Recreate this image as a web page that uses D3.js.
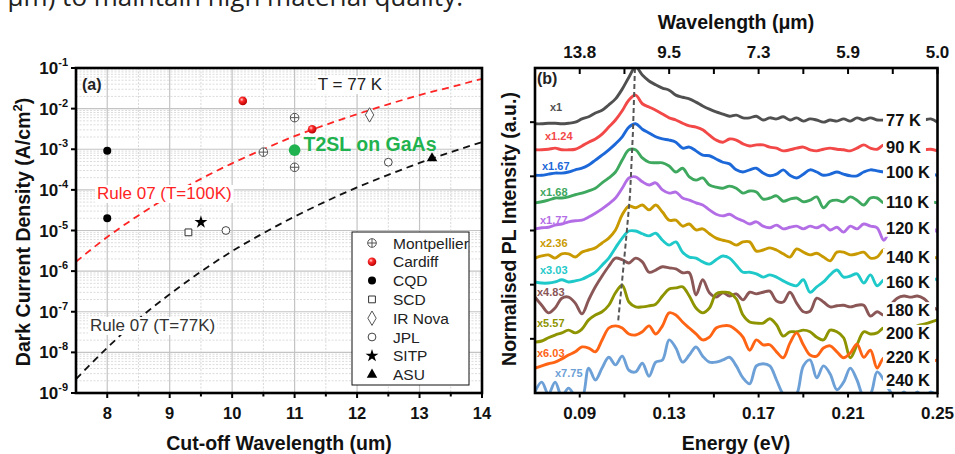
<!DOCTYPE html>
<html>
<head>
<meta charset="utf-8">
<script src="https://cdn.jsdelivr.net/npm/d3@7"></script>
<style>
  body { margin: 0; background: #fff; }
  svg { display: block; }
  text { font-family: "Liberation Sans", Arial, Helvetica, sans-serif; }
</style>
</head>
<body>
<svg id="fig" width="955" height="454"></svg>
<script>
// ================= data: panel (a) dark current vs cut-off wavelength =================
const wavelengthGrid = [7.5, 8, 8.5, 9, 9.5, 10, 10.5, 11, 11.5, 12, 12.5, 13, 13.5, 14];
const rule07At77K  = [2.2e-9, 1.3e-8, 6.6e-8, 2.7e-7, 9.7e-7, 3.1e-6, 8.6e-6, 2.2e-5, 5.2e-5, 1.15e-4, 2.35e-4, 4.6e-4, 8.5e-4, 1.5e-3];
const rule07At100K = [1.7e-6, 6.9e-6, 2.35e-5, 7.1e-5, 1.87e-4, 4.5e-4, 1.0e-3, 2.1e-3, 4.0e-3, 7.3e-3, 1.28e-2, 2.15e-2, 3.4e-2, 5.4e-2];

const groupNames = ["Montpellier", "Cardiff", "CQD", "SCD", "IR Nova", "JPL", "SITP", "ASU"];
const montpellierPts = [[10.5, 8.5e-4], [11, 6e-3], [11, 3.6e-4]];
const cardiffPts     = [[10.17, 1.55e-2], [11.28, 3.1e-3]];
const cqdPts         = [[8, 9.2e-4], [8, 2e-5]];
const scdPts         = [[9.3, 9e-6]];
const irNovaPts      = [[12.2, 7e-3]];
const jplPts         = [[9.9, 1e-5], [12.5, 4.8e-4]];
const sitpPts        = [[9.5, 1.6e-5]];
const asuPts         = [[13.2, 6e-4]];
const t2slPts        = [[11, 9.5e-4]];

const xTicksA = [8, 9, 10, 11, 12, 13, 14];
const yExpA = [-9, -8, -7, -6, -5, -4, -3, -2, -1];

// ================= data: panel (b) PL spectra =================
const energy = [0.070,0.073,0.076,0.079,0.082,0.085,0.088,0.091,0.094,0.097,0.100,0.103,0.106,0.109,0.112,0.115,0.118,0.121,0.124,0.127,0.130,0.133,0.136,0.139,0.142,0.145,0.148,0.151,0.154,0.157,0.160,0.163,0.166,0.169,0.172,0.175,0.178,0.181,0.184,0.187,0.190,0.193,0.196,0.199,0.202,0.205,0.208,0.211,0.214,0.217,0.220,0.223,0.226,0.229,0.232,0.235,0.238,0.241,0.244,0.247,0.250];

const temps = ["77 K", "90 K", "100 K", "110 K", "120 K", "140 K", "160 K", "180 K", "200 K", "220 K", "240 K"];
const multipliers = ["x1", "x1.24", "x1.67", "x1.68", "x1.77", "x2.36", "x3.03", "x4.83", "x5.57", "x6.03", "x7.75"];

const pl77 = [4.97,4.97,4.98,4.98,4.97,4.98,5.00,5.06,5.10,5.17,5.22,5.32,5.43,5.61,5.83,6.02,5.87,5.76,5.69,5.63,5.59,5.50,5.46,5.43,5.37,5.30,5.24,5.19,5.15,5.11,5.13,5.08,5.08,5.11,5.04,5.08,5.06,5.10,5.04,5.08,5.02,5.06,5.04,5.00,5.04,5.02,5.06,5.02,5.08,5.04,5.08,5.04,5.04,5.04,5.02,5.06,5.04,5.02,5.04,5.06,5.00];
const pl90 = [4.49,4.49,4.50,4.52,4.49,4.49,4.50,4.56,4.63,4.69,4.78,4.91,5.04,5.21,5.41,5.50,5.34,5.28,5.22,5.15,5.08,5.04,4.98,4.93,4.91,4.86,4.76,4.67,4.63,4.69,4.67,4.60,4.56,4.58,4.58,4.54,4.52,4.47,4.49,4.52,4.54,4.49,4.47,4.50,4.52,4.50,4.49,4.47,4.52,4.58,4.52,4.50,4.58,4.52,4.49,4.50,4.52,4.49,4.49,4.50,4.47];
const pl100 = [4.02,4.02,4.04,4.06,4.06,4.08,4.12,4.15,4.21,4.30,4.39,4.49,4.60,4.73,4.91,4.97,4.87,4.80,4.73,4.69,4.67,4.63,4.52,4.54,4.47,4.39,4.38,4.32,4.26,4.23,4.12,4.08,4.12,4.15,4.06,4.01,4.04,4.12,4.02,3.97,4.04,4.12,4.08,4.02,4.04,4.08,4.04,4.01,4.01,4.08,4.12,4.10,4.08,4.06,4.10,4.04,4.08,4.06,4.08,4.06,4.01];
const pl110 = [3.51,3.53,3.56,3.60,3.60,3.62,3.66,3.69,3.73,3.78,3.88,3.97,4.08,4.30,4.49,4.49,4.34,4.26,4.25,4.25,4.19,4.08,4.15,3.99,3.93,3.97,3.84,3.80,3.78,3.82,3.78,3.69,3.73,3.71,3.58,3.60,3.64,3.54,3.58,3.60,3.53,3.56,3.62,3.42,3.54,3.56,3.53,3.62,3.56,3.47,3.60,3.60,3.51,3.53,3.56,3.49,3.54,3.53,3.56,3.53,3.51];
const pl120 = [3.03,3.05,3.06,3.10,3.12,3.16,3.18,3.19,3.25,3.32,3.40,3.49,3.60,3.78,3.97,3.99,3.90,3.84,3.88,3.75,3.69,3.71,3.60,3.56,3.51,3.47,3.38,3.30,3.27,3.30,3.23,3.18,3.12,3.16,3.08,3.05,3.10,3.03,3.06,3.08,3.03,3.08,3.05,3.10,3.01,3.06,2.97,3.08,3.03,3.12,3.08,3.05,2.82,3.01,3.05,3.03,3.05,3.06,3.03,3.05,2.97];
const pl140 = [2.49,2.53,2.55,2.49,2.57,2.57,2.51,2.60,2.64,2.68,2.77,2.86,3.01,3.29,3.45,3.42,3.47,3.38,3.47,3.34,3.19,3.19,3.08,3.12,3.01,3.03,2.94,2.86,2.82,2.79,2.73,2.79,2.79,2.62,2.64,2.68,2.64,2.57,2.51,2.66,2.60,2.55,2.58,2.51,2.44,2.60,2.60,2.55,2.57,2.60,2.49,2.51,2.64,2.55,2.51,2.57,2.53,2.55,2.49,2.51,2.49];
const pl160 = [2.05,2.03,2.03,2.05,2.09,2.05,2.07,2.10,2.16,2.23,2.36,2.49,2.68,2.86,2.99,2.99,2.94,2.90,2.95,2.82,2.73,2.79,2.60,2.51,2.49,2.42,2.38,2.46,2.53,2.49,2.36,2.23,2.23,2.20,2.14,2.18,2.14,2.07,2.01,1.98,2.09,1.86,1.96,2.05,2.18,2.27,2.14,2.16,2.20,2.03,2.18,1.98,2.09,2.12,2.07,2.10,2.12,2.09,2.10,2.12,2.09];
const pl180 = [1.77,1.62,1.48,1.57,1.75,1.77,1.66,1.46,1.72,1.96,2.16,2.34,2.49,2.46,2.40,2.49,2.42,2.23,2.27,2.33,2.31,2.29,2.22,2.22,1.81,2.09,1.85,1.77,1.85,1.79,1.83,1.72,1.86,1.83,1.86,1.88,1.70,1.68,1.86,1.66,1.50,1.51,1.75,1.68,1.59,1.61,1.62,1.59,1.62,1.62,1.42,1.50,1.44,1.62,1.75,1.79,1.77,1.79,1.74,1.62,1.53];
const pl200 = [0.94,0.96,1.02,1.07,1.11,1.16,1.11,1.18,1.35,1.44,1.50,1.62,1.85,1.99,1.68,1.59,1.59,1.61,1.64,1.79,1.92,1.94,1.96,1.79,1.57,1.48,1.57,1.83,1.86,1.85,1.74,1.44,1.31,1.29,1.29,1.37,1.26,1.05,1.13,1.13,1.16,1.13,1.03,0.98,1.16,1.13,1.02,0.65,0.89,1.13,1.09,1.11,1.20,1.16,1.11,1.20,1.16,1.24,1.27,1.31,1.35];
const pl220 = [0.46,0.50,0.54,0.57,0.63,0.70,0.76,0.85,0.83,0.76,0.98,1.20,1.24,1.20,1.09,1.07,1.13,1.24,1.09,1.24,1.48,1.44,1.31,1.20,1.09,0.98,1.03,1.20,1.24,1.24,1.16,1.03,0.79,0.98,0.89,0.89,0.76,0.65,0.92,1.11,0.89,0.70,0.68,0.83,0.87,0.76,0.65,0.74,0.90,0.66,0.79,0.46,0.65,0.61,0.55,0.57,0.61,0.57,0.54,0.57,0.61];
const pl240 = [0.02,0.20,-0.02,0.20,-0.06,0.09,-0.06,-0.09,0.46,0.24,0.46,0.66,0.52,0.68,0.42,0.39,0.55,0.31,0.57,0.61,0.98,0.83,0.57,0.70,0.85,0.68,0.57,0.57,0.61,0.66,0.50,0.28,0.17,0.50,0.54,0.50,0.24,-0.02,-0.09,-0.02,0.50,0.61,0.28,0.50,0.35,0.06,0.20,0.46,0.24,-0.06,-0.02,0.39,0.24,0.02,-0.09,0.02,-0.09,0.02,-0.09,0.02,-0.06];
const spectra = [pl77, pl90, pl100, pl110, pl120, pl140, pl160, pl180, pl200, pl220, pl240];

// peak-position guide through the stacked spectra
const peakEnergy = [0.1147, 0.1138, 0.1125, 0.1107, 0.1089, 0.1071];
const peakLevel  = [6.0, 4.82, 3.66, 2.82, 2.05, 1.29];

const energyTicks = [0.09, 0.13, 0.17, 0.21, 0.25];
const energyMinor = [0.11, 0.15, 0.19, 0.23];
const wavelengthLabels = ["13.8", "9.5", "7.3", "5.9", "5.0"];

// ================= styling / layout =================
const specColors = ["#505050", "#f24848", "#1c68d8", "#3ea85e", "#b36ee6", "#c99a00", "#1fc9c9", "#8a5656", "#8e9400", "#ff6414", "#6ca0d6"];
const labelLevel = [5.04, 4.54, 4.08, 3.53, 3.05, 2.51, 2.05, 1.53, 1.11, 0.66, 0.24];
const multPos = [[550,107],[545,136],[542,166],[540,192],[540,220],[540,243],[540,270],[537,292],[537,323],[537,353],[555,373]];

const svg = d3.select("#fig");
svg.append("rect").attr("width", 955).attr("height", 454).attr("fill", "#fff");

const defs = svg.append("defs");
const ball = defs.append("radialGradient").attr("id", "ball").attr("cx", "38%").attr("cy", "35%").attr("r", "65%");
ball.append("stop").attr("offset", "0%").attr("stop-color", "#ffd6d6");
ball.append("stop").attr("offset", "35%").attr("stop-color", "#ff2b2b");
ball.append("stop").attr("offset", "100%").attr("stop-color", "#b80000");

// running caption text above the figure (its upper half lies above the page edge)
svg.append("text").attr("x", 463).attr("y", 6).attr("text-anchor", "end")
  .style("font-family", "'Open Sans', sans-serif").style("font-size", "26px").attr("fill", "#222")
  .text("μm) to maintain high material quality.");

// ---------------------------------------------------------------- panel (a)
const A = { l: 76, r: 482, t: 68, b: 393 };
const xA = d3.scaleLinear().domain([7.5, 14]).range([A.l, A.r]);
const yA = d3.scaleLog().domain([1e-9, 1e-1]).range([A.b, A.t]);
const gA = svg.append("g");

defs.append("clipPath").attr("id", "clipA").append("rect")
  .attr("x", A.l).attr("y", A.t).attr("width", A.r - A.l).attr("height", A.b - A.t);

// minor grid
const minorXA = [8.5, 9.5, 10.5, 11.5, 12.5, 13.5];
const minorYA = [];
yExpA.slice(0, -1).forEach(e => { for (let m = 2; m <= 9; m++) minorYA.push(m * Math.pow(10, e)); });
gA.selectAll(".mgx").data(minorXA).join("line")
  .attr("x1", d => xA(d)).attr("x2", d => xA(d)).attr("y1", A.t).attr("y2", A.b)
  .attr("stroke", "#d8d8d8").attr("stroke-dasharray", "2,1.5");
gA.selectAll(".mgy").data(minorYA).join("line")
  .attr("x1", A.l).attr("x2", A.r).attr("y1", d => yA(d)).attr("y2", d => yA(d))
  .attr("stroke", "#dcdcdc").attr("stroke-dasharray", "2,1.5");
// major grid
gA.selectAll(".gx").data(xTicksA.slice(0, -1)).join("line")
  .attr("x1", d => xA(d)).attr("x2", d => xA(d)).attr("y1", A.t).attr("y2", A.b)
  .attr("stroke", "#c4c4c4").attr("stroke-width", 1.2);
gA.selectAll(".gy").data(yExpA.slice(1, -1)).join("line")
  .attr("x1", A.l).attr("x2", A.r).attr("y1", d => yA(Math.pow(10, d))).attr("y2", d => yA(Math.pow(10, d)))
  .attr("stroke", "#c4c4c4").attr("stroke-width", 1.2);

// Rule 07 curves
const ruleLine = d3.line().x((d, i) => xA(wavelengthGrid[i])).y(d => yA(d)).curve(d3.curveMonotoneX);
const gRule = gA.append("g").attr("clip-path", "url(#clipA)");
gRule.append("path").attr("d", ruleLine(rule07At100K)).attr("fill", "none")
  .attr("stroke", "#ff2424").attr("stroke-width", 1.8).attr("stroke-dasharray", "7,5");
gRule.append("path").attr("d", ruleLine(rule07At77K)).attr("fill", "none")
  .attr("stroke", "#111").attr("stroke-width", 1.8).attr("stroke-dasharray", "7,5");

// labels with white backing
function boxedText(g, x, y, txt, opts) {
  const t = g.append("text").attr("x", x).attr("y", y)
    .attr("fill", opts.fill || "#222").style("font-size", opts.size + "px")
    .style("font-weight", opts.weight || "normal").attr("text-anchor", opts.anchor || "start").text(txt);
  const bb = t.node().getBBox();
  g.insert("rect", () => t.node())
    .attr("x", bb.x - (opts.padL ?? 2)).attr("y", bb.y + 1)
    .attr("width", bb.width + (opts.padL ?? 2) + (opts.padR ?? 2)).attr("height", bb.height - 1)
    .attr("fill", "#fff");
  return t;
}
boxedText(gA, 350, 90, "T = 77 K", { size: 17, anchor: "middle" });
boxedText(gA, 97, 199, "Rule 07 (T=100K)", { size: 17, fill: "#ff2424" });
boxedText(gA, 90, 331, "Rule 07 (T=77K)", { size: 17, fill: "#333" });

// markers
const sym = (type, size) => d3.symbol().type(type).size(size)();
function marker(g, kind, x, y) {
  const s = g.append("g").attr("transform", `translate(${x},${y})`);
  switch (kind) {
    case "Montpellier":
      s.append("circle").attr("r", 4.3).attr("fill", "#fff").attr("stroke", "#555").attr("stroke-width", 1);
      s.append("path").attr("d", "M-4.3,0H4.3M0,-4.3V4.3").attr("stroke", "#555").attr("stroke-width", 1);
      break;
    case "Cardiff":
      s.append("circle").attr("r", 4.3).attr("fill", "url(#ball)");
      break;
    case "CQD":
      s.append("circle").attr("r", 4).attr("fill", "#000");
      break;
    case "SCD":
      s.append("path").attr("d", sym(d3.symbolSquare, 46)).attr("fill", "#fff").attr("stroke", "#333").attr("stroke-width", 1);
      break;
    case "IR Nova":
      s.append("path").attr("d", sym(d3.symbolDiamond, 60)).attr("fill", "#fff").attr("stroke", "#555").attr("stroke-width", 1);
      break;
    case "JPL":
      s.append("circle").attr("r", 3.9).attr("fill", "#fff").attr("stroke", "#444").attr("stroke-width", 1);
      break;
    case "SITP":
      s.append("path").attr("d", sym(d3.symbolStar, 52)).attr("fill", "#000");
      break;
    case "ASU":
      s.append("path").attr("d", sym(d3.symbolTriangle, 48)).attr("fill", "#000");
      break;
  }
}
const groupPts = [montpellierPts, cardiffPts, cqdPts, scdPts, irNovaPts, jplPts, sitpPts, asuPts];
groupNames.forEach((name, gi) => {
  groupPts[gi].forEach(p => marker(gA, name, xA(p[0]), yA(p[1])));
});
t2slPts.forEach(p => gA.append("circle").attr("cx", xA(p[0])).attr("cy", yA(p[1])).attr("r", 5.8).attr("fill", "#1fb24e"));
gA.append("text").attr("x", xA(t2slPts[0][0]) + 9).attr("y", yA(t2slPts[0][1]) + 1)
  .attr("fill", "#1fb24e").style("font-size", "19.5px").style("font-weight", "bold").text("T2SL on GaAs");

// legend
const leg = gA.append("g");
leg.append("rect").attr("x", 352).attr("y", 232).attr("width", 117).attr("height", 153)
  .attr("fill", "#fff").attr("stroke", "#111").attr("stroke-width", 1);
groupNames.forEach((name, i) => {
  const yy = 243 + i * 18.8;
  marker(leg, name, 372, yy);
  leg.append("text").attr("x", 393).attr("y", yy + 5.5).attr("fill", "#222").style("font-size", "15.5px").text(name);
});

// frame and ticks
gA.append("rect").attr("x", A.l).attr("y", A.t).attr("width", A.r - A.l).attr("height", A.b - A.t)
  .attr("fill", "none").attr("stroke", "#000").attr("stroke-width", 2.6);
gA.selectAll(".tx").data(xTicksA).join("line")
  .attr("x1", d => xA(d)).attr("x2", d => xA(d)).attr("y1", A.b).attr("y2", A.b + 5)
  .attr("stroke", "#000").attr("stroke-width", 2);
gA.selectAll(".tmx").data(minorXA).join("line")
  .attr("x1", d => xA(d)).attr("x2", d => xA(d)).attr("y1", A.b).attr("y2", A.b + 3.5)
  .attr("stroke", "#000").attr("stroke-width", 2);
gA.selectAll(".ty").data(yExpA).join("line")
  .attr("x1", A.l - 5).attr("x2", A.l).attr("y1", d => yA(Math.pow(10, d))).attr("y2", d => yA(Math.pow(10, d)))
  .attr("stroke", "#000").attr("stroke-width", 2);
gA.selectAll(".lx").data(xTicksA).join("text")
  .attr("x", d => xA(d)).attr("y", 419).attr("text-anchor", "middle")
  .style("font-size", "16.5px").style("font-weight", "bold").attr("fill", "#111").text(d => d);
yExpA.forEach(e => {
  const t = gA.append("text").attr("x", 68).attr("y", yA(Math.pow(10, e)) + 6).attr("text-anchor", "end")
    .style("font-weight", "bold").attr("fill", "#111");
  t.append("tspan").style("font-size", "17px").text("10");
  t.append("tspan").style("font-size", "11px").attr("dy", -8).text(String(e));
});
gA.append("text").attr("x", 82).attr("y", 90).style("font-size", "16px").style("font-weight", "bold")
  .attr("fill", "#222").text("(a)");
gA.append("text").attr("x", 279).attr("y", 450).attr("text-anchor", "middle")
  .style("font-size", "19.5px").style("font-weight", "bold").attr("fill", "#111").text("Cut-off Wavelength (um)");
const ytA = gA.append("text").attr("transform", "translate(30,232) rotate(-90)").attr("text-anchor", "middle")
  .style("font-size", "19.5px").style("font-weight", "bold").attr("fill", "#111");
ytA.append("tspan").text("Dark Current Density (A/cm");
ytA.append("tspan").style("font-size", "13px").attr("dy", -8).text("2");
ytA.append("tspan").attr("dy", 8).text(")");

// ---------------------------------------------------------------- panel (b)
const B = { l: 535, r: 937.5, t: 68, b: 393 };
const xB = d3.scaleLinear().domain([0.07, 0.25]).range([B.l, B.r]);
const yB = d3.scaleLinear().domain([0, 6]).range([B.b, B.t]);
const gB = svg.append("g");
defs.append("clipPath").attr("id", "clipB").append("rect")
  .attr("x", B.l).attr("y", B.t).attr("width", B.r - B.l).attr("height", B.b - B.t);

const specLine = d3.line().x((d, i) => xB(energy[i])).y(d => yB(d)).curve(d3.curveCatmullRom.alpha(0.5));
const gSpec = gB.append("g").attr("clip-path", "url(#clipB)");
spectra.forEach((s, i) => {
  gSpec.append("path").attr("d", specLine(s)).attr("fill", "none")
    .attr("stroke", specColors[i]).attr("stroke-width", 2.9).attr("stroke-linejoin", "round");
});

// peak guide
const guide = d3.line().x((d, i) => xB(peakEnergy[i])).y(d => yB(d));
gSpec.append("path").attr("d", guide(peakLevel)).attr("fill", "none")
  .attr("stroke", "#555").attr("stroke-width", 2).attr("stroke-dasharray", "5,3");

// temperature labels on white backing
temps.forEach((t, i) => {
  boxedText(gB, 886, yB(labelLevel[i]) + 6, t, { size: 16.5, weight: "bold", fill: "#111", padL: 3, padR: 5 });
});
// scale factors
multipliers.forEach((m, i) => {
  gB.append("text").attr("x", multPos[i][0]).attr("y", multPos[i][1] + 4)
    .attr("fill", specColors[i]).style("font-size", "11px").style("font-weight", "bold").text(m);
});

gB.append("rect").attr("x", B.l).attr("y", B.t).attr("width", B.r - B.l).attr("height", B.b - B.t)
  .attr("fill", "none").attr("stroke", "#000").attr("stroke-width", 2.6);
const allE = energyTicks.concat(energyMinor);
gB.selectAll(".bt").data(allE).join("line")
  .attr("x1", d => xB(d)).attr("x2", d => xB(d)).attr("y1", B.b).attr("y2", B.b + 4.5)
  .attr("stroke", "#000").attr("stroke-width", 2);
gB.selectAll(".tt").data(allE).join("line")
  .attr("x1", d => xB(d)).attr("x2", d => xB(d)).attr("y1", B.t).attr("y2", B.t + 6)
  .attr("stroke", "#000").attr("stroke-width", 2);
gB.selectAll(".lt").data([1, 2, 3, 4, 5]).join("line")
  .attr("x1", B.l - 5).attr("x2", B.l).attr("y1", d => yB(d)).attr("y2", d => yB(d))
  .attr("stroke", "#000").attr("stroke-width", 2);
gB.selectAll(".bl").data(energyTicks).join("text")
  .attr("x", d => xB(d)).attr("y", 419).attr("text-anchor", "middle")
  .style("font-size", "17px").style("font-weight", "bold").attr("fill", "#111").text(d => d.toFixed(2));
gB.selectAll(".tl").data(energyTicks).join("text")
  .attr("x", d => xB(d)).attr("y", 58).attr("text-anchor", "middle")
  .style("font-size", "17px").style("font-weight", "bold").attr("fill", "#111").text((d, i) => wavelengthLabels[i]);
gB.append("text").attr("x", 537).attr("y", 84).style("font-size", "16px").style("font-weight", "bold")
  .attr("fill", "#222").text("(b)");
gB.append("text").attr("x", 736).attr("y", 450).attr("text-anchor", "middle")
  .style("font-size", "19.5px").style("font-weight", "bold").attr("fill", "#111").text("Energy (eV)");
gB.append("text").attr("x", 736).attr("y", 29).attr("text-anchor", "middle")
  .style("font-size", "19.5px").style("font-weight", "bold").attr("fill", "#111").text("Wavelength (μm)");
gB.append("text").attr("transform", "translate(516,229) rotate(-90)").attr("text-anchor", "middle")
  .style("font-size", "19.5px").style("font-weight", "bold").attr("fill", "#111").text("Normalised PL Intensity (a.u.)");
</script>
</body>
</html>
